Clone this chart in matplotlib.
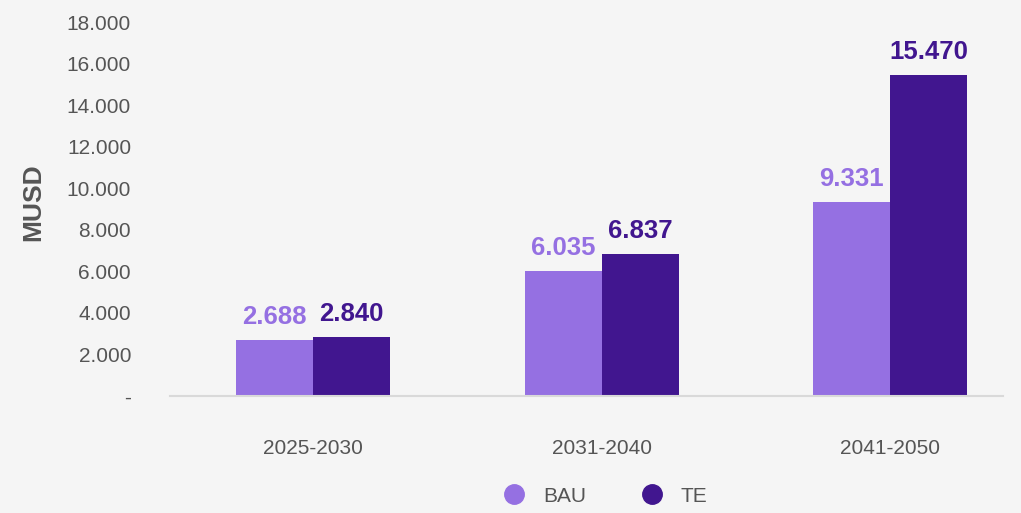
import matplotlib.pyplot as plt
from matplotlib.lines import Line2D
from matplotlib.ticker import FuncFormatter
import numpy as np

periods = ["2025-2030", "2031-2040", "2041-2050"]
bau = [2688, 6035, 9331]
te = [2840, 6837, 15470]

c_bau = "#9570e2"
c_te = "#41168f"
c_text = "#555555"
bg = "#f5f5f5"

plt.rcParams["font.family"] = ["Liberation Sans", "DejaVu Sans"]


def dots(v, pos=None):
    if v == 0:
        return "-"
    return f"{v:,.0f}".replace(",", ".")


fig = plt.figure(figsize=(10.21, 5.13), dpi=100, facecolor=bg)
ax = fig.add_axes([0.1665, 0.228, 0.8155, 0.729], facecolor=bg)

x = np.arange(len(periods))
w = 0.267
b1 = ax.bar(x - w / 2, bau, w, color=c_bau)
b2 = ax.bar(x + w / 2, te, w, color=c_te)

for bars, vals, col in [(b1, bau, c_bau), (b2, te, c_te)]:
    for r, v in zip(bars, vals):
        ax.annotate(dots(v), (r.get_x() + r.get_width() / 2, v),
                    xytext=(0, 8), textcoords="offset points",
                    ha="center", va="bottom", fontsize=18.5,
                    fontweight="bold", color=col, annotation_clip=False)

ax.set_xlim(-0.496, 2.39)
ax.set_ylim(0, 18000)
ax.set_yticks(np.arange(0, 18001, 2000))
ax.yaxis.set_major_formatter(FuncFormatter(dots))
ax.set_xticks(x)
ax.set_xticklabels(periods)
ax.tick_params(axis="both", length=0, labelsize=15, colors=c_text)
ax.tick_params(axis="x", pad=31)
ax.tick_params(axis="y", pad=28)

for s in ["top", "right", "left"]:
    ax.spines[s].set_visible(False)
ax.spines["bottom"].set_color("#d9d9d9")
ax.spines["bottom"].set_linewidth(1.5)

ax.set_ylabel("MUSD", fontsize=19, fontweight="bold", color=c_text)
ax.yaxis.set_label_coords(-0.15, 0.519)

handles = [Line2D([], [], marker="o", ls="", markersize=14, color=c_bau),
           Line2D([], [], marker="o", ls="", markersize=14, color=c_te)]
fig.legend(handles, ["BAU", "TE"], loc="center", bbox_to_anchor=(0.588, 0.033),
           ncol=2, frameon=False, fontsize=15, labelcolor=c_text,
           handletextpad=0.4, columnspacing=2.15)

fig.savefig("out.png", dpi=100, facecolor=bg)
